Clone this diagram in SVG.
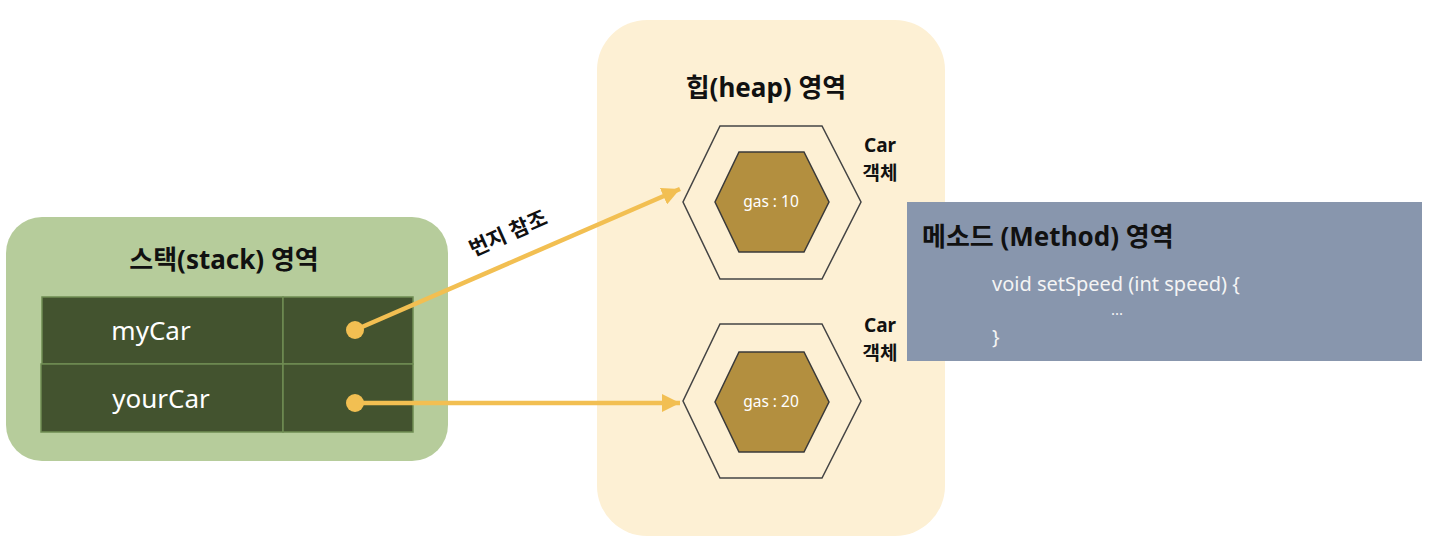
<svg xmlns="http://www.w3.org/2000/svg" width="1440" height="556" viewBox="0 0 1440 556">
<defs>
<marker id="ah" markerWidth="4" markerHeight="4" refX="4" refY="2" orient="auto" markerUnits="strokeWidth">
<path d="M0,0 L4,2 L0,4 Z" fill="#f2bf52"/>
</marker>
<style>
.t{font-family:"Noto Sans","Noto Sans CJK KR",sans-serif}
.title{font-size:26px;font-weight:700;fill:#111}
.cell{fill:#43532f;stroke:#6f8c53;stroke-width:1.5}
.var{font-size:26px;fill:#fff}
.hexo{fill:none;stroke:#444;stroke-width:1.5}
.hexi{fill:#b38f3f;stroke:#3a3a3a;stroke-width:1.5}
.gas{font-size:15.5px;fill:#fff}
.lbl{font-size:19px;font-weight:700;fill:#111}
.code{font-size:20px;fill:#f4f4f4}
.dots{font-size:15px;fill:#f4f4f4}
.conn{stroke:#f2bf52;stroke-width:4.5;fill:none}
.dot{fill:#f2bf52}
</style>
</defs>
<rect width="1440" height="556" fill="#fff"/>

<g id="stack">
<rect x="6" y="217" width="442" height="244" rx="36" fill="#b6cc9b"/>
<text class="t title" x="224" y="269" text-anchor="middle">스택(stack) 영역</text>
<rect class="cell" x="42" y="297" width="241" height="67"/>
<rect class="cell" x="283" y="297" width="130" height="67"/>
<rect class="cell" x="41" y="364" width="242" height="68"/>
<rect class="cell" x="283" y="364" width="130" height="68"/>
<text class="t var" x="151" y="340" text-anchor="middle">myCar</text>
<text class="t var" x="161" y="408" text-anchor="middle">yourCar</text>
</g>

<g id="heap">
<rect x="597" y="20" width="348" height="516" rx="50" fill="#fdf0d4"/>
<text class="t title" x="766" y="97" text-anchor="middle">힙(heap) 영역</text>
</g>

<g id="car1">
<polygon class="hexo" points="720,126 822,126 861,202 822,279 720,279 683,202"/>
<polygon class="hexi" points="739,152 804,152 829,202 804,252 739,252 715,202"/>
<text class="t gas" x="771" y="207" text-anchor="middle">gas : 10</text>
<text class="t lbl" x="880" y="152" text-anchor="middle">Car</text>
<text class="t lbl" x="880" y="180" text-anchor="middle">객체</text>
</g>

<g id="car2">
<polygon class="hexo" points="720,324 822,324 861,401 822,478 720,478 683,401"/>
<polygon class="hexi" points="739,352 804,352 829,402 804,452 739,452 715,402"/>
<text class="t gas" x="771" y="407" text-anchor="middle">gas : 20</text>
<text class="t lbl" x="880" y="332" text-anchor="middle">Car</text>
<text class="t lbl" x="880" y="360" text-anchor="middle">객체</text>
</g>

<g id="method">
<rect x="907" y="202" width="515" height="159" fill="#8896ad"/>
<text class="t title" x="922" y="246">메소드 (Method) 영역</text>
<text class="t code" x="992" y="291">void setSpeed (int speed) {</text>
<text class="t dots" x="1117" y="315" text-anchor="middle">...</text>
<text class="t code" x="992" y="344">}</text>
</g>

<g id="connectors">
<line class="conn" x1="355" y1="330" x2="680" y2="189" marker-end="url(#ah)"/>
<line class="conn" x1="355" y1="403" x2="680" y2="403" marker-end="url(#ah)"/>
<circle class="dot" cx="355" cy="330" r="9"/>
<circle class="dot" cx="355" cy="403" r="9"/>
<text class="t lbl" x="511" y="240" text-anchor="middle" transform="rotate(-24 511 240)" style="font-size:21px">번지 참조</text>
</g>
</svg>
